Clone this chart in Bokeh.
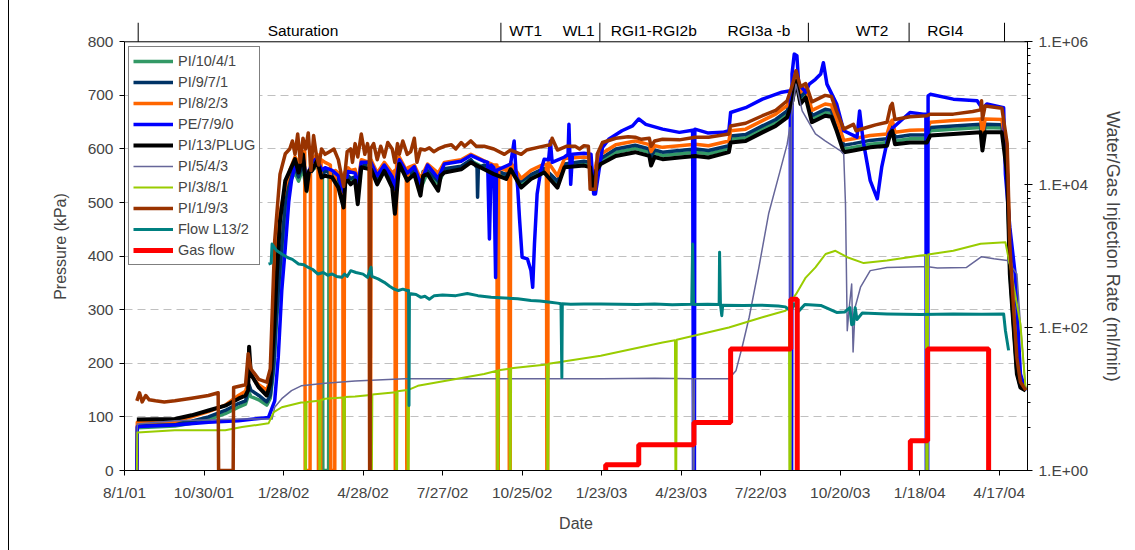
import math
import pandas as pd
from bokeh.plotting import figure
from bokeh.models import Range1d, LogAxis, LogScale, FixedTicker, Span
from bokeh.core.properties import value
from bokeh.embed import file_html
from bokeh.resources import INLINE

# ---------------- data (day offsets from BASE_DATE, values) ----------------
BASE_DATE = "2001-08-01"
X_END_DAY = 1022
TICK_LABELS = ["8/1/01", "10/30/01", "1/28/02", "4/28/02", "7/27/02", "10/25/02",
               "1/23/03", "4/23/03", "7/22/03", "10/20/03", "1/18/04", "4/17/04"]
Y_TICKS = [0, 100, 200, 300, 400, 500, 600, 700, 800]
RATE_TICKS = [1, 100, 10000, 1000000]
RATE_LABELS = ["1.E+00", "1.E+02", "1.E+04", "1.E+06"]

PHASE_BOUNDS = [15.5, 426, 538, 774, 888, 996]
PHASE_LABELS = ["Saturation", "WT1", "WL1", "RGI1-RGI2b", "RGI3a -b", "WT2", "RGI4"]
PHASE_LABEL_DAYS = [202, 454, 514, 599, 718, 846, 929]

PI_10_4_1 = [(14,0),(14.5,80),(57,83),(76,88),(95,95),(114,106),(129,118),(137,124),(141,145),(143,138),(152,132),(161,122),(165,135),(169,190),(172,280),(176,350),(182,480),(187,540),(193,556),(197,540),(202,565),(206,520),(209,550),(212,560),(218,568),(224,555),(224.5,0),(231,0),(231.5,550),(235,545),(242,538),(248,505),(250,540),(253,545),(261,542),(264,515),(268,566),(279,566),(286,540),(294,560),(303,535),(306,510),(311,570),(320,545),(328,557),(335,525),(343,557),(355,535),(362,560),(381,565),(392,578),(407,565),(418,556),(432,548),(437,564),(449,535),(460,548),(475,560),(490,535),(498,569),(520,573),(527,570),(530,528),(534,560),(539,576),(556,594),(578,601),(594,594),(596,578),(600,592),(609,588),(628,591),(646,594),(661,591),(684,600),(686,618),(703,621),(722,637),(737,649),(750,665),(756,695),(760,731),(765,690),(771,702),(778,656),(793,668),(800,666),(806,640),(814,600),(825,603),(844,609),(863,612),(867,634),(869,638),(872,615),(889,619),(908,619),(912,634),(938,637),(969,640),(971,612),(974,640),(993,639),(999,560),(1002,372),(1006,276),(1010,182),(1014,156),(1020,149)]

PI_9_7_1 = [(14,85),(57,88),(76,92),(95,100),(114,112),(129,125),(137,130),(141,160),(143,150),(152,140),(161,128),(165,140),(169,200),(172,290),(176,380),(182,500),(187,548),(193,565),(197,548),(202,575),(206,530),(209,555),(212,565),(218,575),(223,545),(227,560),(235,552),(242,545),(248,515),(250,550),(253,550),(256,545),(261,548),(264,520),(268,572),(279,570),(286,545),(294,565),(303,540),(306,520),(311,575),(320,550),(328,562),(335,530),(338,558),(343,560),(355,540),(358,558),(362,563),(381,568),(392,580),(399,565),(399.6,510),(400.5,565),(407,570),(418,562),(432,552),(437,568),(449,540),(460,552),(475,564),(490,540),(498,572),(520,577),(527,575),(530,530),(534,565),(539,582),(556,600),(578,607),(594,600),(596,585),(600,598),(609,594),(628,597),(646,600),(661,597),(684,606),(686,624),(703,627),(722,643),(737,655),(750,671),(756,700),(760,735),(765,697),(771,708),(778,662),(793,674),(800,672),(806,646),(814,607),(825,610),(844,616),(863,619),(867,640),(869,645),(872,622),(889,626),(908,626),(912,640),(938,643),(969,646),(971,620),(974,646),(993,645),(999,570),(1002,380),(1006,280),(1010,185),(1014,157),(1020,150)]

PI_8_2_3 = [(14,0),(14.5,90),(57,92),(76,100),(95,110),(114,122),(129,140),(137,148),(140,165),(141,200),(143,178),(152,160),(161,150),(165,170),(169,290),(172,400),(176,480),(182,530),(187,560),(193,585),(197,575),(202,595),(204,595),(204.5,0),(210,0),(210.5,580),(212,580),(218,590),(219,585),(219.5,0),(222,0),(222.5,580),(227,575),(233,570),(233.5,0),(238,0),(238.5,560),(242,555),(247,550),(247.5,0),(248.5,0),(249,555),(253,565),(256,560),(261,562),(264,535),(268,580),(277,575),(277.5,0),(278.5,0),(279,580),(286,555),(294,575),(303,555),(306,560),(306.5,0),(307.5,0),(308,585),(311,585),(319,560),(319.5,0),(320.5,0),(321,565),(328,570),(335,545),(343,572),(355,555),(362,575),(381,580),(392,590),(407,578),(418,570),(421.5,570),(422,0),(423,0),(423.5,565),(432,560),(435,570),(435.5,0),(436.5,0),(437,575),(449,545),(460,560),(475,572),(477.5,570),(478,0),(479,0),(479.5,575),(490,550),(498,582),(520,585),(527,583),(530,535),(534,575),(539,590),(556,608),(578,615),(594,608),(596,595),(600,606),(609,603),(628,606),(646,609),(661,606),(684,615),(686,634),(703,637),(722,653),(737,665),(750,681),(756,710),(760,745),(765,706),(771,718),(778,672),(793,684),(800,682),(806,656),(814,616),(825,619),(844,625),(863,628),(867,650),(869,654),(872,631),(889,635),(908,636),(912,650),(938,653),(969,656),(971,625),(974,656),(993,655),(999,590),(1002,400),(1006,300),(1010,195),(1014,160),(1020,151)]

PE_7_9_0 = [(14,0),(14.5,82),(57,85),(95,90),(129,93),(163,99),(170,130),(174,211),(178,336),(182,416),(186,503),(189,541),(193,569),(197,560),(202,585),(206,540),(212,575),(218,583),(223,560),(227,565),(235,560),(242,550),(248,520),(253,558),(261,555),(264,530),(268,575),(279,575),(286,550),(294,570),(303,548),(306,525),(311,580),(320,555),(328,567),(335,535),(343,570),(355,545),(362,572),(381,577),(392,588),(407,577),(411,575),(413,432),(415,570),(418,565),(420,360),(421,560),(437,572),(441,615),(443,560),(445,528),(447,472),(450,398),(456,395),(460,373),(462,342),(464,423),(467,516),(471,559),(475,581),(480,580),(482,615),(484,575),(498,585),(502,590),(503,646),(505,534),(507,590),(520,592),(528,590),(531,516),(533,516),(541,603),(548,618),(563,634),(575,643),(582,656),(590,646),(609,637),(628,631),(643,635),(644,0),(645,0),(645.5,637),(660,630),(677,631),(684,634),(686,668),(703,677),(722,693),(744,706),(752,708),(753.5,708),(754,0),(755,0),(755.5,740),(758,777),(761,774),(763,721),(771,706),(775,721),(782,730),(788,740),(791,761),(795,721),(806,684),(814,634),(829,622),(832,671),(836,615),(844,541),(852,507),(857,566),(865,628),(870,640),(889,668),(904,665),(907,665),(907.5,0),(909,0),(909.5,699),(912,702),(938,693),(965,690),(971,675),(972,677),(976,684),(995,677),(997,553),(1002,454),(1008,367),(1012,242),(1014,180),(1020,149)]

PI_13_PLUG = [(14,95),(57,96),(76,103),(95,112),(114,121),(129,134),(137,140),(140,150),(141,231),(143,180),(152,155),(161,140),(165,162),(169,255),(172,354),(176,466),(182,541),(187,559),(193,581),(197,556),(202,590),(206,522),(209,560),(212,559),(218,578),(223,547),(227,550),(235,547),(242,528),(248,491),(250,540),(253,541),(256,534),(261,541),(264,497),(268,566),(279,562),(286,534),(294,559),(303,528),(306,479),(311,572),(320,541),(328,553),(335,513),(338,550),(343,553),(355,522),(358,550),(362,556),(381,562),(392,575),(407,562),(418,553),(432,544),(437,562),(449,528),(460,544),(475,556),(490,528),(498,566),(520,569),(527,566),(530,525),(534,560),(539,572),(556,587),(578,594),(594,587),(596,569),(600,585),(609,581),(628,584),(646,587),(661,584),(684,594),(686,612),(703,615),(722,631),(737,643),(750,659),(756,690),(760,727),(765,684),(771,696),(778,650),(793,662),(800,660),(806,634),(814,594),(825,597),(844,603),(863,606),(867,630),(869,634),(872,609),(889,612),(908,612),(912,625),(938,628),(969,631),(971,597),(974,631),(993,631),(999,553),(1002,367),(1006,273),(1010,180),(1014,155),(1020,149)]

PI_5_4_3 = [(14,0),(14.5,87),(57,93),(129,96),(167,96),(170,118),(178,134),(189,149),(200,158),(227,163),(261,167),(317,171),(420,171),(540,171),(600,172),(643,171),(643.5,0),(644.5,0),(645,171),(684,171),(692,186),(699,230),(707,286),(718,379),(729,479),(741,553),(750,609),(753,640),(753.5,0),(754.5,0),(755,660),(756,677),(760,721),(767,671),(782,628),(793,615),(810,597),(814,590),(816,497),(818,261),(820,300),(823,348),(824.6,221),(827,305),(833,342),(844,373),(863,379),(901,380),(907,380),(907.5,0),(909,0),(909.5,380),(920,378),(953,379),(970,399),(984,395),(999,392),(1010,367),(1014,273),(1020,150)]

PI_3_8_1 = [(14,0),(14.5,71),(57,75),(114,75),(133,81),(163,88),(169,109),(178,118),(200,127),(204,127),(204.5,0),(205.5,0),(206,128),(220,130),(220.5,0),(221.5,0),(222,131),(227,134),(247.5,136),(248,0),(249,0),(249.5,137),(261,138),(278.5,141),(279,0),(280,0),(280.5,142),(307,146),(307.5,0),(308.5,0),(309,148),(320,150),(320.5,0),(321.5,0),(322,151),(332,158),(407,180),(421.5,186),(422,0),(423,0),(423.5,187),(435.5,190),(436,0),(437,0),(437.5,191),(478,198),(478.5,0),(479.5,0),(480,199),(539,214),(609,239),(623,243),(623.5,0),(624.5,0),(625,244),(684,267),(722,286),(748,298),(752,305),(752.5,0),(753.5,0),(754,315),(760,329),(771,360),(782,379),(793.5,404),(804.6,410),(818,398),(836.6,387),(863,392),(901,401),(907,402),(907.5,0),(909,0),(909.5,403),(938,410),(969,423),(997,426),(1004,367),(1014,273),(1020,150)]

PI_1_9_3 = [(14,130),(17,145),(20,128),(24,140),(28,132),(35,130),(45,128),(57,130),(76,135),(95,140),(106,145),(106.5,0),(123,0),(123.5,155),(137,160),(140,218),(143,190),(152,170),(161,165),(165,190),(170,429),(176,553),(182,591),(187,600),(190,615),(193,590),(196,628),(199,575),(202,620),(205,600),(208,630),(211,560),(214,625),(217,590),(220,570),(223,600),(227,590),(232,595),(237,600),(242,580),(248,530),(252,595),(256,600),(258,575),(261,610),(264,585),(268,628),(272,590),(275,610),(277,590),(277.5,0),(278,0),(278.5,600),(282,610),(286,580),(290,605),(294,585),(298,612),(303,600),(306,575),(309,610),(311,590),(315,615),(320,590),(324,595),(328,620),(331,575),(335,600),(340,598),(345,602),(350,595),(355,600),(362,605),(370,608),(375,600),(381,612),(385,605),(392,615),(398,605),(407,605),(418,600),(430,590),(437,598),(449,590),(455,598),(468,603),(482,608),(484,620),(490,598),(500,605),(510,605),(515,600),(520,606),(525,605),(527,525),(533,525),(535,590),(541,612),(556,620),(570,623),(578,622),(585,618),(594,620),(596,605),(600,615),(609,618),(628,617),(646,622),(661,622),(684,628),(686,643),(703,648),(722,662),(737,672),(750,690),(756,720),(760,746),(765,716),(771,722),(778,688),(793,700),(800,698),(806,670),(814,637),(825,646),(828,634),(840,640),(850,645),(863,650),(867,680),(869,685),(872,655),(889,660),(908,662),(912,665),(938,665),(960,670),(969,673),(970,690),(971,655),(974,680),(993,676),(999,610),(1002,420),(1006,310),(1010,210),(1014,165),(1020,150)]

# rates in ml/min (right, log axis)
FLOW_L13_2 = [(163,776),(166,800),(167,1480),(172,1200),(178,1070),(185,950),(190,900),(197,776),(203,760),(208,695),(213,650),(219,562),(225,590),(230,540),(235,562),(240,520),(246,505),(249,560),(252,520),(256,626),(262,590),(270,560),(275,505),(279,700),(280,520),(287,480),(294,430),(300,380),(305,347),(310,330),(315,345),(320,330),(321.5,330),(322,8.1),(322.5,300),(330,290),(335.5,265),(340,275),(345,250),(350.6,280),(360,285),(375,280),(388,300),(400,280),(415,265),(430,260),(445,253),(460,240),(470,235),(482,226),(490,220),(494,215),(495,20),(495.5,215),(505,212),(520,214),(539,214),(560,212),(580,210),(600,214),(620,208),(642,212),(643,1480),(644,210),(660,212),(673,210),(673.5,1130),(674.5,210),(676,147),(677,205),(700,204),(720,206),(740,200),(748,195),(754,170),(758,215),(763,170),(770,210),(788,204),(806,163),(815,165),(821,190),(823,110),(825,112),(827,190),(829,130),(835,160),(863,155),(901,152),(938,155),(970,154),(995,155),(997,91),(1000.6,48)]

GAS_FLOW_1 = [(544.6,1),(544.6,1.2),(582,1.2),(582,2.3),(644.5,2.3),(644.5,4.7),(686,4.7),(686,50),(754,50),(754,250),(761.4,250),(761.4,1)]
GAS_FLOW_2 = [(889.4,1),(889.4,2.6),(909,2.6),(909,50),(978,50),(978,1)]

# ---------------- helpers ----------------
DAY_MS = 86400000
BASE_MS = int(pd.Timestamp(BASE_DATE).value // 10**6)
Y_TOP = 836.0
FONT = "Liberation Sans"


def xs(pairs):
    return [BASE_MS + d * DAY_MS for d, _ in pairs]


def ys(pairs):
    return [v for _, v in pairs]


tick_ms = [int(pd.to_datetime(t, format="%m/%d/%y").value // 10**6) for t in TICK_LABELS]

p = figure(width=1126, height=550, x_axis_type="datetime",
           output_backend="svg", toolbar_location=None,
           x_range=Range1d(BASE_MS, BASE_MS + X_END_DAY * DAY_MS),
           y_range=Range1d(0, Y_TOP),
           min_border_left=115, min_border_right=108,
           min_border_top=22, min_border_bottom=80)
p.outline_line_color = None
p.background_fill_color = "white"
p.border_fill_color = "white"
p.styles = {"border-left": "1px solid black", "margin-left": "8px"}

p.extra_y_ranges = {"rate": Range1d(1, 10 ** (6 * Y_TOP / 800))}
p.extra_y_scales = {"rate": LogScale()}

# grid
p.xgrid.visible = False
p.ygrid.ticker = FixedTicker(ticks=Y_TICKS[1:-1])
p.ygrid.grid_line_color = "#c0c0c0"
p.ygrid.grid_line_dash = "8 5"
p.ygrid.grid_line_width = 1

# left axis
ya = p.yaxis[0]
ya.ticker = FixedTicker(ticks=Y_TICKS)
ya.bounds = (0, 800)
ya.axis_label = "Pressure (kPa)"
ya.axis_label_text_font = FONT
ya.axis_label_text_font_size = "16px"
ya.axis_label_text_font_style = "normal"
ya.axis_label_standoff = 16
ya.major_label_text_font = FONT
ya.major_label_text_font_size = "15.5px"
ya.major_label_standoff = 6
ya.major_tick_in = 0
ya.major_tick_out = 5
ya.minor_tick_line_color = None
ya.axis_line_color = "black"
ya.major_tick_line_color = "black"

# bottom axis
xa = p.xaxis[0]
xa.ticker = FixedTicker(ticks=tick_ms)
xa.major_label_overrides = {t: lab for t, lab in zip(tick_ms, TICK_LABELS)}
xa.axis_label = "Date"
xa.axis_label_text_font = FONT
xa.axis_label_text_font_size = "16px"
xa.axis_label_text_font_style = "normal"
xa.axis_label_standoff = 11
xa.major_label_text_font = FONT
xa.major_label_text_font_size = "15.5px"
xa.major_label_standoff = 8
xa.major_tick_in = 0
xa.major_tick_out = 5
xa.minor_tick_line_color = None
xa.axis_line_color = "black"
xa.major_tick_line_color = "black"

# right log axis
minor = [k * k * 100 ** n for n in range(3) for k in range(2, 10)]
ra = LogAxis(y_range_name="rate", bounds=(1, 1000000),
             ticker=FixedTicker(ticks=RATE_TICKS, minor_ticks=minor))
ra.major_label_overrides = {t: lab for t, lab in zip(RATE_TICKS, RATE_LABELS)}
ra.axis_label = "Water/Gas Injection Rate (ml/min)"
ra.axis_label_text_font = FONT
ra.axis_label_text_font_size = "18px"
ra.axis_label_text_font_style = "normal"
ra.axis_label_standoff = 12
ra.major_label_text_font = FONT
ra.major_label_text_font_size = "15.5px"
ra.major_label_standoff = 6
ra.major_tick_in = 3
ra.major_tick_out = 5
ra.minor_tick_in = 0
ra.minor_tick_out = 3
ra.axis_line_color = "black"
p.add_layout(ra, "right")

# top border line and phase markers
p.add_layout(Span(location=800, dimension="width", line_color="black", line_width=1))
bx = [BASE_MS + d * DAY_MS for d in PHASE_BOUNDS]
p.segment(x0=bx, y0=[800] * len(bx), x1=bx, y1=[Y_TOP] * len(bx),
          line_color="black", line_width=1)
lx = [BASE_MS + d * DAY_MS for d in PHASE_LABEL_DAYS]
p.text(x=lx, y=[821] * len(lx), text=PHASE_LABELS, text_font=value(FONT),
       text_font_size="15.5px", text_align="center", text_baseline="middle",
       text_color="black")

# series
series = [
    ("PI/10/4/1", PI_10_4_1, "#339966", 3.5, None),
    ("PI/9/7/1", PI_9_7_1, "#003366", 3.5, None),
    ("PI/8/2/3", PI_8_2_3, "#FF6600", 3.5, None),
    ("PE/7/9/0", PE_7_9_0, "#0000FF", 3.5, None),
    ("PI/13/PLUG", PI_13_PLUG, "#000000", 4, None),
    ("PI/5/4/3", PI_5_4_3, "#666699", 1.5, None),
    ("PI/3/8/1", PI_3_8_1, "#99CC00", 2, None),
    ("PI/1/9/3", PI_1_9_3, "#993300", 3.5, None),
    ("Flow L13/2", FLOW_L13_2, "#008080", 3, "rate"),
]
for name, data, col, lw, rng in series:
    kw = {"y_range_name": rng} if rng else {}
    p.line(xs(data), ys(data), line_color=col, line_width=lw, line_join="round",
           legend_label=name, **kw)

gx = xs(GAS_FLOW_1) + [float("nan")] + xs(GAS_FLOW_2)
gy = ys(GAS_FLOW_1) + [float("nan")] + ys(GAS_FLOW_2)
p.line(gx, gy, line_color="#FF0000", line_width=5, legend_label="Gas flow",
       y_range_name="rate")

lg = p.legend[0]
lg.location = (4, 205)
lg.border_line_color = "black"
lg.border_line_width = 1
lg.background_fill_color = "white"
lg.background_fill_alpha = 1
lg.label_text_font = FONT
lg.label_text_font_size = "14.5px"
lg.glyph_width = 40
lg.glyph_height = 20
lg.label_height = 20
lg.label_standoff = 5
lg.spacing = 1
lg.padding = 4
lg.margin = 0

open("out.html", "w").write(file_html(p, INLINE))
